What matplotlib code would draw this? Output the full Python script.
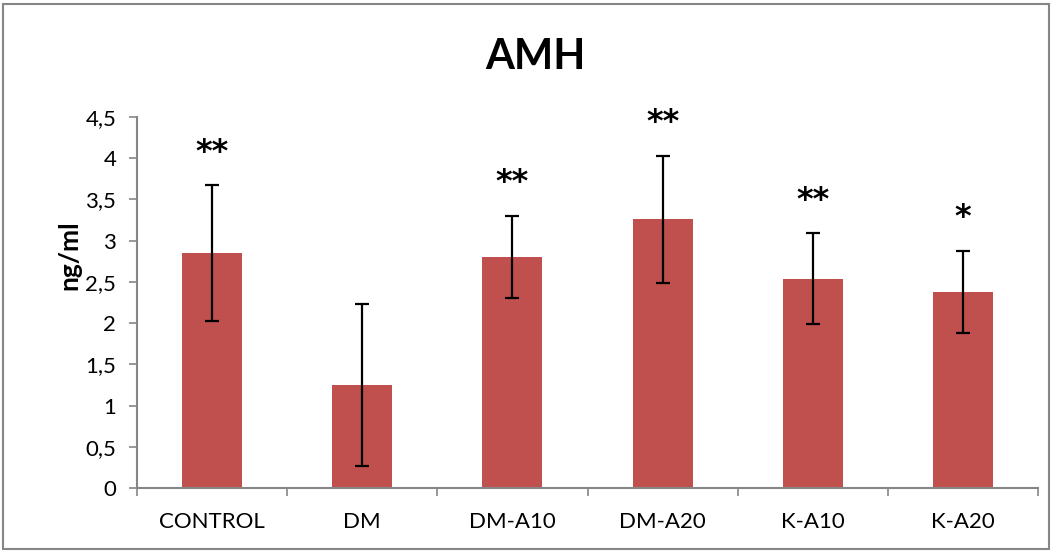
import matplotlib
matplotlib.use("Agg")
import matplotlib.pyplot as plt
import matplotlib.patches as patches
from matplotlib.ticker import FixedLocator, FuncFormatter

groups = ["CONTROL", "DM", "DM-A10", "DM-A20", "K-A10", "K-A20"]
means = [2.85, 1.25, 2.80, 3.26, 2.54, 2.38]
errors = [0.82, 0.98, 0.50, 0.77, 0.55, 0.50]
stars = ["**", "", "**", "**", "**", "*"]

plt.rcParams["font.family"] = ["Lato", "DejaVu Sans"]

fig = plt.figure(figsize=(10.56, 5.55), dpi=100)
ax = fig.add_axes([137 / 1056, 67 / 555, 901 / 1056, 371 / 555])

x = list(range(len(groups)))
ax.bar(x, means, width=0.4, color="#C0504D", zorder=2)
ax.errorbar(x, means, yerr=errors, fmt="none", ecolor="black",
            elinewidth=1.6, capsize=5, capthick=1.6, zorder=3)

# significance marks sit a fixed gap above each error bar
for xi, m, e, s in zip(x, means, errors, stars):
    if s:
        ax.text(xi, m + e + 0.40, s, ha="center", va="center",
                fontsize=23, fontweight="bold", family="DejaVu Sans")

ax.set_xlim(-0.5, len(groups) - 0.5)
ax.set_ylim(0, 4.5)
ax.set_yticks([i * 0.5 for i in range(10)])
ax.yaxis.set_major_formatter(
    FuncFormatter(lambda v, _: "{:g}".format(v).replace(".", ",")))

ax.set_xticks(x)
ax.set_xticklabels(groups)
ax.xaxis.set_minor_locator(FixedLocator([i - 0.5 for i in range(len(groups) + 1)]))
ax.tick_params(axis="x", which="major", length=0, pad=17, labelsize=16)
ax.tick_params(axis="x", which="minor", length=6, width=1.2, color="#868686")
ax.tick_params(axis="y", length=6, width=1.2, color="#868686", labelsize=16, pad=9)

for side in ["top", "right"]:
    ax.spines[side].set_visible(False)
for side in ["left", "bottom"]:
    ax.spines[side].set_color("#868686")
    ax.spines[side].set_linewidth(1.5)

ax.set_ylabel("ng/ml", fontsize=19, fontweight="bold")
ax.yaxis.set_label_coords(-0.062, 0.628)
fig.text(535 / 1056, 1 - 57 / 555, "AMH", ha="center", va="center",
         fontsize=30, fontweight="bold")

border = patches.Rectangle((3 / 1056, 6 / 555), 1046 / 1056, 545 / 555,
                           transform=fig.transFigure, fill=False,
                           edgecolor="#868686", linewidth=1.5)
fig.patches.append(border)

fig.savefig("out.png", dpi=100)
